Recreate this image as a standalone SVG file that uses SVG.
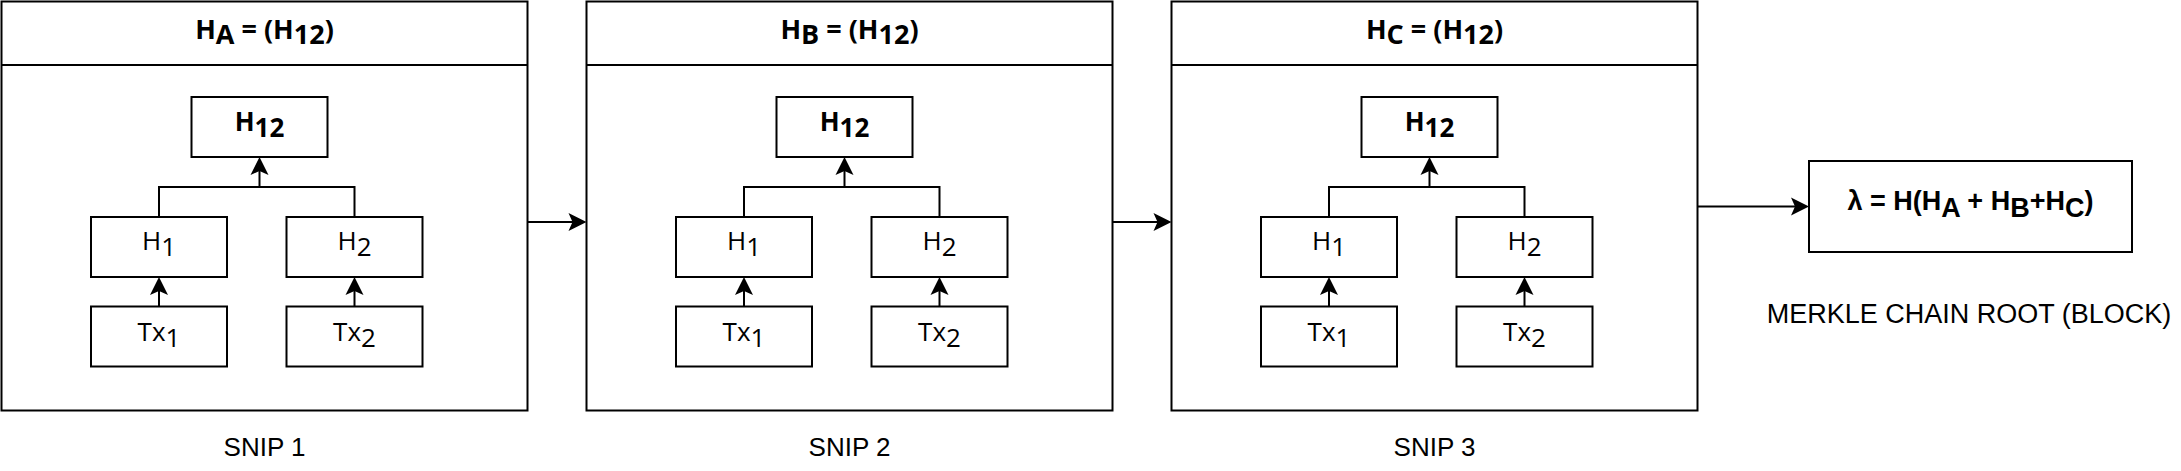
<svg xmlns="http://www.w3.org/2000/svg" width="2181" height="471" viewBox="0 0 2181 471">
<style>
.box{fill:#fff;stroke:#000;stroke-width:2}
.ln{fill:none;stroke:#000;stroke-width:2}
.os{font-family:"Open Sans","Noto Sans",sans-serif;font-size:26px;fill:#000;text-anchor:middle}
.b{font-weight:700}
.hd{font-size:27px}
.ar{font-family:"Liberation Sans",Arial,sans-serif;font-size:26px;fill:#000;text-anchor:middle}
.lam{font-size:27px}
.mk{font-size:27px}
</style>
<defs>
<marker id="arr" markerUnits="userSpaceOnUse" orient="auto" overflow="visible" markerWidth="1" markerHeight="1" refX="0" refY="0">
<path d="M3 0 L-15 -9 L-11 0 L-15 9 Z" fill="#000"/>
</marker>
</defs>
<rect width="2181" height="471" fill="#fff"/>

<!-- SNIP 1 -->
<g id="snip1">
<rect class="box" x="1.5" y="1.5" width="526" height="409"/>
<line class="ln" x1="1.5" y1="65" x2="527.5" y2="65"/>
<text class="os b hd" x="264.5" y="39">H<tspan dy="5">A</tspan><tspan dy="-5"> = (H</tspan><tspan dy="5">12</tspan><tspan dy="-5">)</tspan></text>
</g>
<g id="snip1-h12"><rect class="box" x="191.5" y="97" width="136" height="60"/><text class="os b" x="259.5" y="131">H<tspan dy="6">12</tspan></text></g>
<g id="snip1-h1"><rect class="box" x="91" y="217" width="136" height="60"/><text class="os" x="159" y="250">H<tspan dy="6">1</tspan></text></g>
<g id="snip1-h2"><rect class="box" x="286.5" y="217" width="136" height="60"/><text class="os" x="354.5" y="250">H<tspan dy="6">2</tspan></text></g>
<g id="snip1-tx1"><rect class="box" x="91" y="306.5" width="136" height="60"/><text class="os" x="159" y="341">Tx<tspan dy="6">1</tspan></text></g>
<g id="snip1-tx2"><rect class="box" x="286.5" y="306.5" width="136" height="60"/><text class="os" x="354.5" y="341">Tx<tspan dy="6">2</tspan></text></g>
<text id="snip1-label" class="ar" x="264.5" y="456">SNIP 1</text>

<!-- SNIP 2 -->
<g id="snip2">
<rect class="box" x="586.5" y="1.5" width="526" height="409"/>
<line class="ln" x1="586.5" y1="65" x2="1112.5" y2="65"/>
<text class="os b hd" x="849.5" y="39">H<tspan dy="5">B</tspan><tspan dy="-5"> = (H</tspan><tspan dy="5">12</tspan><tspan dy="-5">)</tspan></text>
</g>
<g id="snip2-h12"><rect class="box" x="776.5" y="97" width="136" height="60"/><text class="os b" x="844.5" y="131">H<tspan dy="6">12</tspan></text></g>
<g id="snip2-h1"><rect class="box" x="676" y="217" width="136" height="60"/><text class="os" x="744" y="250">H<tspan dy="6">1</tspan></text></g>
<g id="snip2-h2"><rect class="box" x="871.5" y="217" width="136" height="60"/><text class="os" x="939.5" y="250">H<tspan dy="6">2</tspan></text></g>
<g id="snip2-tx1"><rect class="box" x="676" y="306.5" width="136" height="60"/><text class="os" x="744" y="341">Tx<tspan dy="6">1</tspan></text></g>
<g id="snip2-tx2"><rect class="box" x="871.5" y="306.5" width="136" height="60"/><text class="os" x="939.5" y="341">Tx<tspan dy="6">2</tspan></text></g>
<text id="snip2-label" class="ar" x="849.5" y="456">SNIP 2</text>

<!-- SNIP 3 -->
<g id="snip3">
<rect class="box" x="1171.5" y="1.5" width="526" height="409"/>
<line class="ln" x1="1171.5" y1="65" x2="1697.5" y2="65"/>
<text class="os b hd" x="1434.5" y="39">H<tspan dy="5">C</tspan><tspan dy="-5"> = (H</tspan><tspan dy="5">12</tspan><tspan dy="-5">)</tspan></text>
</g>
<g id="snip3-h12"><rect class="box" x="1361.5" y="97" width="136" height="60"/><text class="os b" x="1429.5" y="131">H<tspan dy="6">12</tspan></text></g>
<g id="snip3-h1"><rect class="box" x="1261" y="217" width="136" height="60"/><text class="os" x="1329" y="250">H<tspan dy="6">1</tspan></text></g>
<g id="snip3-h2"><rect class="box" x="1456.5" y="217" width="136" height="60"/><text class="os" x="1524.5" y="250">H<tspan dy="6">2</tspan></text></g>
<g id="snip3-tx1"><rect class="box" x="1261" y="306.5" width="136" height="60"/><text class="os" x="1329" y="341">Tx<tspan dy="6">1</tspan></text></g>
<g id="snip3-tx2"><rect class="box" x="1456.5" y="306.5" width="136" height="60"/><text class="os" x="1524.5" y="341">Tx<tspan dy="6">2</tspan></text></g>
<text id="snip3-label" class="ar" x="1434.5" y="456">SNIP 3</text>

<!-- Root -->
<g id="root">
<rect class="box" x="1809" y="161" width="323" height="91"/>
<text class="ar b lam" x="1970.5" y="210">λ = H(H<tspan dy="6.5">A</tspan><tspan dy="-6.5"> + H</tspan><tspan dy="6.5">B</tspan><tspan dy="-6.5">+H</tspan><tspan dy="6.5">C</tspan><tspan dy="-6.5">)</tspan></text>
</g>
<text id="root-label" class="ar mk" x="1969" y="323">MERKLE CHAIN ROOT (BLOCK)</text>

<g id="connectors">
<path class="ln" d="M159 217 V187 H354.5 V217"/>
<path class="ln" d="M259.5 187 V160" marker-end="url(#arr)"/>
<path class="ln" d="M159 306.5 V280" marker-end="url(#arr)"/>
<path class="ln" d="M354.5 306.5 V280" marker-end="url(#arr)"/>
<path class="ln" d="M744 217 V187 H939.5 V217"/>
<path class="ln" d="M844.5 187 V160" marker-end="url(#arr)"/>
<path class="ln" d="M744 306.5 V280" marker-end="url(#arr)"/>
<path class="ln" d="M939.5 306.5 V280" marker-end="url(#arr)"/>
<path class="ln" d="M1329 217 V187 H1524.5 V217"/>
<path class="ln" d="M1429.5 187 V160" marker-end="url(#arr)"/>
<path class="ln" d="M1329 306.5 V280" marker-end="url(#arr)"/>
<path class="ln" d="M1524.5 306.5 V280" marker-end="url(#arr)"/>
<path class="ln" d="M527.5 222 H583.5" marker-end="url(#arr)"/>
<path class="ln" d="M1112.5 222 H1168.5" marker-end="url(#arr)"/>
<path class="ln" d="M1697.5 206.5 H1806" marker-end="url(#arr)"/>
</g>
</svg>
